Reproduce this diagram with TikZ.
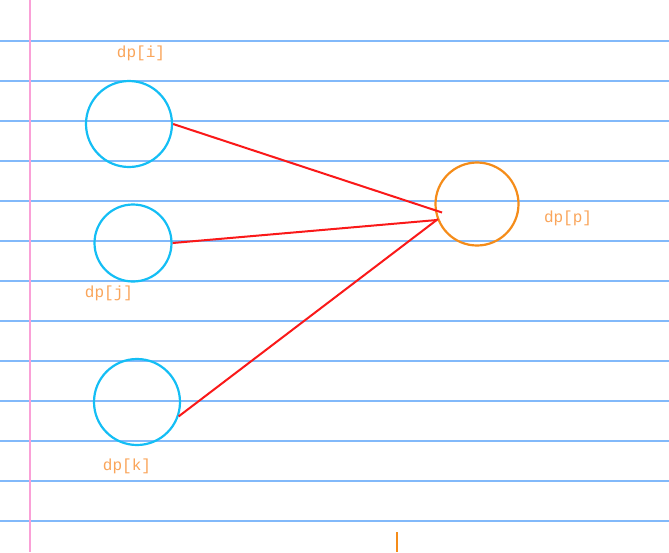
\documentclass[tikz,border=0pt]{standalone}
\usepackage{fontspec}
\newfontfamily\labelfont{Liberation Mono}
\definecolor{ruleblue}{RGB}{130,185,250}
\definecolor{marginpink}{RGB}{250,160,215}
\definecolor{nodeblue}{RGB}{20,190,245}
\definecolor{nodeorange}{RGB}{245,140,25}
\definecolor{labelorange}{RGB}{250,165,90}
\definecolor{edgered}{RGB}{250,25,25}
\tikzset{
  state/.style={circle, draw=nodeblue, line width=2.2pt, inner sep=0pt},
  target/.style={circle, draw=nodeorange, line width=2.2pt, inner sep=0pt, minimum size=83pt},
  dplabel/.style={text=labelorange, font=\labelfont\fontsize{16}{18}\selectfont},
  edge/.style={draw=edgered, line width=2pt}
}
\begin{document}
\begin{tikzpicture}[x=1pt,y=-1pt]
\useasboundingbox (0,0) rectangle (669,552);
\fill[white] (0,0) rectangle (669,552);

% ruled paper
\foreach \y in {41,81,...,521}
  \draw[ruleblue, line width=1.3pt] (0,\y) -- (669,\y);
\draw[marginpink, line width=2pt] (30,0) -- (30,552);

\node[state, minimum size=86pt] (i) at (129,124) {};
\node[state, minimum size=77pt] (j) at (133,243) {};
\node[state, minimum size=86pt] (k) at (137,402) {};
\node[target] (p) at (477,204) {};

\node[dplabel] (li) at (141,53) {dp[i]};
\node[dplabel] (lj) at (109,293) {dp[j]};
\node[dplabel] (lk) at (127,466) {dp[k]};
\node[dplabel] (lp) at (568,218) {dp[p]};

\coordinate (pi) at (442,212.5);
\coordinate (pj) at (437,220);
\coordinate (pk) at (438,219);

\draw[edge] (i.east) -- (pi);
\draw[edge] (j.east) -- (pj);
\draw[edge] (k.-19) -- (pk);

% cursor mark
\draw[nodeorange, line width=1.6pt] (397,532) -- (397,552);

\end{tikzpicture}
\end{document}
